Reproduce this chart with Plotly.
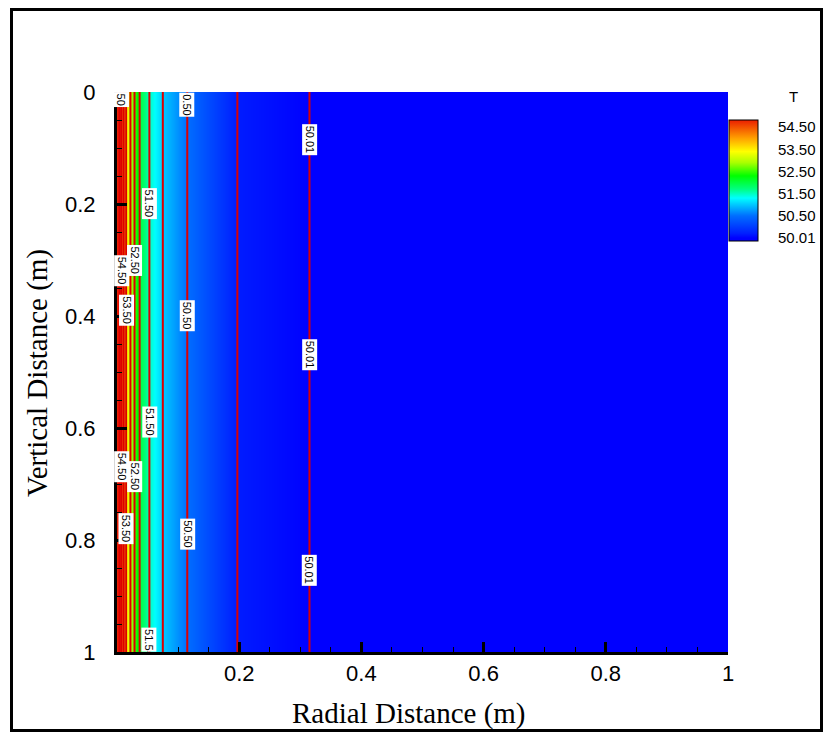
import numpy as np
import plotly.graph_objects as go

# ---- data ----
radial_r = [0.0, 0.004, 0.0073, 0.011, 0.015, 0.022, 0.0287, 0.037, 0.053, 0.075, 0.115, 0.197, 0.315, 0.5, 1.0]
temp_T = [55.6, 55.0, 54.5, 54.0, 53.5, 53.0, 52.5, 52.0, 51.5, 51.0, 50.5, 50.1, 50.01, 50.0, 50.0]
vertical_y = [0.0, 1.0]
line_levels = [50.01, 50.1, 50.5, 51.0, 51.5, 52.0, 52.5, 53.0, 53.5, 54.0, 54.5, 55.0]
cbar_levels = [50.01, 50.50, 51.50, 52.50, 53.50, 54.50]
cbar_labels = ["50.01", "50.50", "51.50", "52.50", "53.50", "54.50"]
x_ticks = [0.2, 0.4, 0.6, 0.8, 1.0]
x_ticktext = ["0.2", "0.4", "0.6", "0.8", "1"]
y_ticks = [0.0, 0.2, 0.4, 0.6, 0.8, 1.0]
y_ticktext = ["0", "0.2", "0.4", "0.6", "0.8", "1"]

# contour labels: level, text, vertical positions
label_levels = [50.01, 50.50, 51.50, 52.50, 53.50, 54.50]
label_texts = ["50.01", "50.50", "51.50", "52.50", "53.50", "54.50"]
label_ys = [[0.086, 0.47, 0.855], [0.40, 0.79], [0.20, 0.59], [0.30, 0.686], [0.39, 0.78], [0.32, 0.67]]

# ---- geometry (pixels) ----
W, H = 825, 732
L, R, T_, B = 117, 97, 92, 80
PW, PH = W - L - R, H - T_ - B


def px2x(px):
    return (px - L) / PW


def py2y(py):
    return (H - B - py) / PH


# map temperature to colour-bar level index (bar labels are evenly spaced)
def level_index(t):
    t = np.asarray(t, dtype=float)
    return np.where(t >= 50.5, 1.0 + (t - 50.5), (t - 50.01) / 0.49)


u_row = level_index(temp_T)
cmin, cmax = -0.135, 5.32
stops = [(-0.135, "rgb(0,0,255)"), (0.0, "rgb(0,0,255)"), (0.2, "rgb(0,30,255)"),
         (1.0, "rgb(0,110,255)"), (1.5, "rgb(0,200,255)"), (1.8, "rgb(0,255,255)"),
         (2.2, "rgb(0,255,130)"), (2.8, "rgb(0,255,0)"), (3.4, "rgb(170,255,0)"),
         (3.9, "rgb(255,255,0)"), (4.5, "rgb(255,160,0)"), (5.32, "rgb(235,30,0)")]
colorscale = [[(u - cmin) / (cmax - cmin), c] for u, c in stops]

fig = go.Figure()
fig.add_trace(go.Heatmap(
    x=radial_r, y=vertical_y, z=[u_row, u_row], zsmooth="best",
    colorscale=colorscale, zmin=cmin, zmax=cmax, hoverinfo="skip",
    colorbar=dict(
        tickvals=[0, 1, 2, 3, 4, 5], ticktext=cbar_labels,
        x=px2x(729), xanchor="left", xpad=0, ypad=0,
        y=py2y(180.5), yanchor="middle",
        thickness=29, thicknessmode="pixels", len=121, lenmode="pixels",
        outlinewidth=1, outlinecolor="black",
        ticks="outside", ticklen=17, tickcolor="rgba(0,0,0,0)",
        tickfont=dict(family="Arial", size=15, color="black"),
    ),
))

zT = [temp_T, temp_T]
for lv in line_levels:
    fig.add_trace(go.Contour(
        x=radial_r, y=vertical_y, z=zT, showscale=False, hoverinfo="skip",
        autocontour=False,
        contours=dict(start=lv, end=lv, size=1, coloring="none"),
        line=dict(color="rgb(220,0,0)", width=2),
    ))

annotations = []
rr = np.array(radial_r)
tt = np.array(temp_T)
lab_font = dict(family="Arial", size=11, color="black")
for lv, txt, ys in zip(label_levels, label_texts, label_ys):
    xr = float(np.interp(lv, tt[::-1], rr[::-1]))
    for yv in ys:
        annotations.append(dict(x=xr, y=yv, xref="x", yref="y", text=txt, showarrow=False,
                                xanchor="center", yanchor="middle",
                                textangle=90, bgcolor="white", borderpad=1, font=lab_font))
# labels partly cut by the plot edges
x545 = float(np.interp(54.5, tt[::-1], rr[::-1]))
x505 = float(np.interp(50.5, tt[::-1], rr[::-1]))
x515 = float(np.interp(51.5, tt[::-1], rr[::-1]))
annotations.append(dict(x=x545, y=0, xref="x", yref="y", xanchor="center", yanchor="top", text="50",
                        showarrow=False, textangle=90, bgcolor="white", borderpad=1, font=lab_font))
annotations.append(dict(x=x505, y=0, xref="x", yref="y", xanchor="center", yanchor="top", text="0.50",
                        showarrow=False, textangle=90, bgcolor="white", borderpad=1, font=lab_font))
annotations.append(dict(x=x515, y=1, xref="x", yref="y", xanchor="center", yanchor="bottom", text="51.5",
                        showarrow=False, textangle=90, bgcolor="white", borderpad=1, font=lab_font))
annotations.append(dict(x=px2x(794), y=py2y(97), xref="paper", yref="paper", text="T", showarrow=False,
                        xanchor="center", yanchor="middle",
                        font=dict(family="Arial", size=15, color="black")))

serif = "Liberation Serif, Times New Roman, serif"
# axis titles
annotations.append(dict(x=px2x(409), y=py2y(713), xref="paper", yref="paper", text="Radial Distance (m)",
                        xanchor="center", yanchor="middle",
                        showarrow=False, font=dict(family=serif, size=29, color="black")))
annotations.append(dict(x=px2x(37), y=py2y(373), xref="paper", yref="paper", text="Vertical Distance (m)",
                        xanchor="center", yanchor="middle",
                        showarrow=False, textangle=-90, font=dict(family=serif, size=29, color="black")))

fig.update_layout(
    width=W, height=H, margin=dict(l=L, r=R, t=T_, b=B, pad=0, autoexpand=False),
    paper_bgcolor="white", plot_bgcolor="white", showlegend=False,
    annotations=annotations,
    shapes=[dict(type="rect", xref="paper", yref="paper",
                 x0=px2x(11.5), x1=px2x(821.5), y0=py2y(730.5), y1=py2y(9.5),
                 line=dict(color="black", width=3), fillcolor="rgba(0,0,0,0)", layer="above")],
    xaxis=dict(range=[0, 1], tickvals=x_ticks, ticktext=x_ticktext, ticks="inside", ticklen=10,
               tickwidth=3, tickcolor="black", showline=True, linewidth=3, linecolor="black",
               showgrid=False, zeroline=False, mirror=False, automargin=False,
               minor=dict(dtick=0.05, tick0=0, ticks="inside", ticklen=5, tickwidth=1, tickcolor="black"),
               tickfont=dict(family="Arial", size=22, color="black")),
    yaxis=dict(range=[1, 0], tickvals=y_ticks, ticktext=y_ticktext, ticks="inside", ticklen=10,
               tickwidth=3, tickcolor="black", showline=True, linewidth=3, linecolor="black",
               showgrid=False, zeroline=False, mirror=False, ticklabelstandoff=14, automargin=False,
               minor=dict(dtick=0.05, tick0=0, ticks="inside", ticklen=5, tickwidth=1, tickcolor="black"),
               tickfont=dict(family="Arial", size=22, color="black")),
)

fig.write_html("out.html", config={"displayModeBar": False},
               post_script="document.body.style.margin='0px';document.body.style.padding='0px';")
